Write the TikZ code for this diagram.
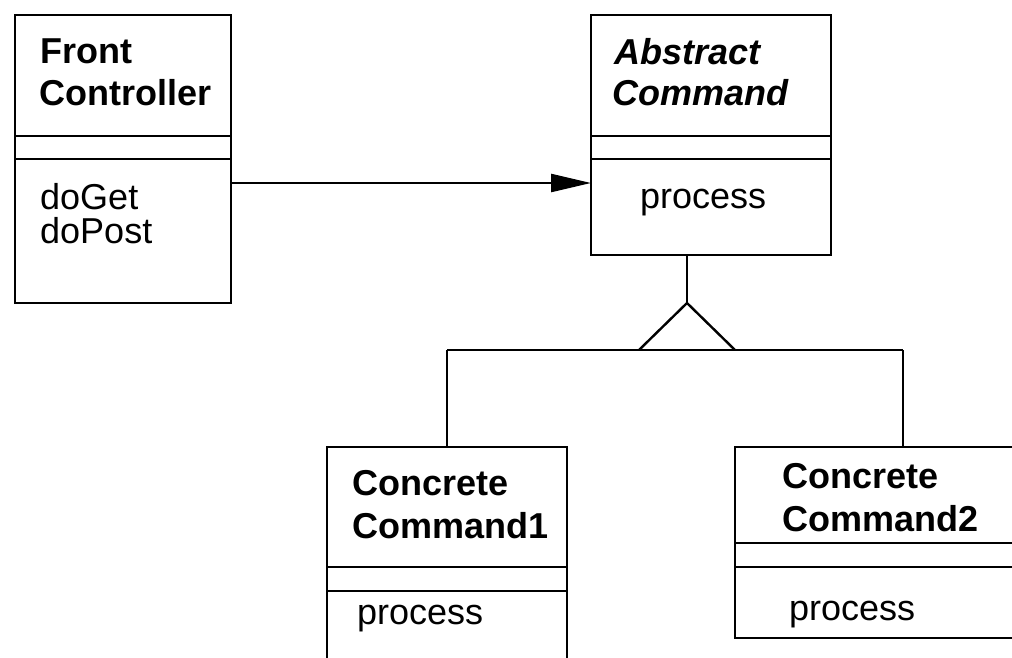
\documentclass[tikz,border=0pt]{standalone}
\usepackage{fontspec}
\setmainfont{Liberation Sans}
\usetikzlibrary{arrows.meta}
\begin{document}
\begin{tikzpicture}[x=1pt,y=-1pt,line width=2.4pt,
  cls/.style 2 args={draw,rectangle,anchor=north west,inner sep=0pt,outer sep=0pt,minimum width=#1,minimum height=#2},
  txt/.style={anchor=base west,inner sep=0pt,font=\fontsize{36pt}{42pt}\selectfont},
  hd/.style={txt,font=\fontsize{36pt}{42pt}\selectfont\bfseries},
  hdi/.style={txt,font=\fontsize{36pt}{42pt}\selectfont\bfseries\itshape},
  assoc/.style={-{Triangle[length=40pt,width=18pt]}},
  gen/.style={line join=miter}]
\useasboundingbox (0,0) rectangle (1012,657);
\clip (0,0) rectangle (1012,657);
\fill[white] (0,0) rectangle (1012,657);
% boxes
\node[cls={216pt}{288pt}] (fc) at (15,15) {};
\node[cls={240pt}{240pt}] (ac) at (591,15) {};
\node[cls={240pt}{260pt}] (cc1) at (327,447) {};
\node[cls={345pt}{191pt}] (cc2) at (735,447) {};
% dividers
\draw (15,136) -- (231,136);
\draw (15,159) -- (231,159);
\draw (591,136) -- (831,136);
\draw (591,159) -- (831,159);
\draw (327,567) -- (567,567);
\draw (327,591) -- (567,591);
\draw (735,543) -- (1080,543);
\draw (735,567) -- (1080,567);
% texts
\node[hd] (fc1) at (39,63) {Front};
\node[hd] (fc2) at (38,105) {Controller};
\node[txt] (fc3) at (39,209) {doGet};
\node[txt] (fc4) at (39,243) {doPost};
\node[hdi] (ac1) at (613,64) {Abstract};
\node[hdi] (ac2) at (611,105) {Command};
\node[txt] (ac3) at (639,208) {process};
\node[hd] (c11) at (351,495) {Concrete};
\node[hd] (c12) at (351,538) {Command1};
\node[txt] (c13) at (356,624) {process};
\node[hd] (c21) at (781,488) {Concrete};
\node[hd] (c22) at (781,531) {Command2};
\node[txt] (c23) at (788,620) {process};
% association
\coordinate (ay) at (0,183);
\draw[assoc] (fc.east |- ay) -- (ac.west |- ay);
% generalization
\coordinate (apex) at (687,303);
\coordinate (bl) at (639,350);
\coordinate (br) at (735,350);
\coordinate (j1) at (447,350);
\coordinate (j2) at (903,350);
\draw (ac.south -| apex) -- (apex);
\draw[gen] (bl) -- (apex) -- (br);
\draw (j1) -- (j2);
\draw (j1) -- (cc1.north -| j1);
\draw (j2) -- (cc2.north -| j2);
\end{tikzpicture}
\end{document}
